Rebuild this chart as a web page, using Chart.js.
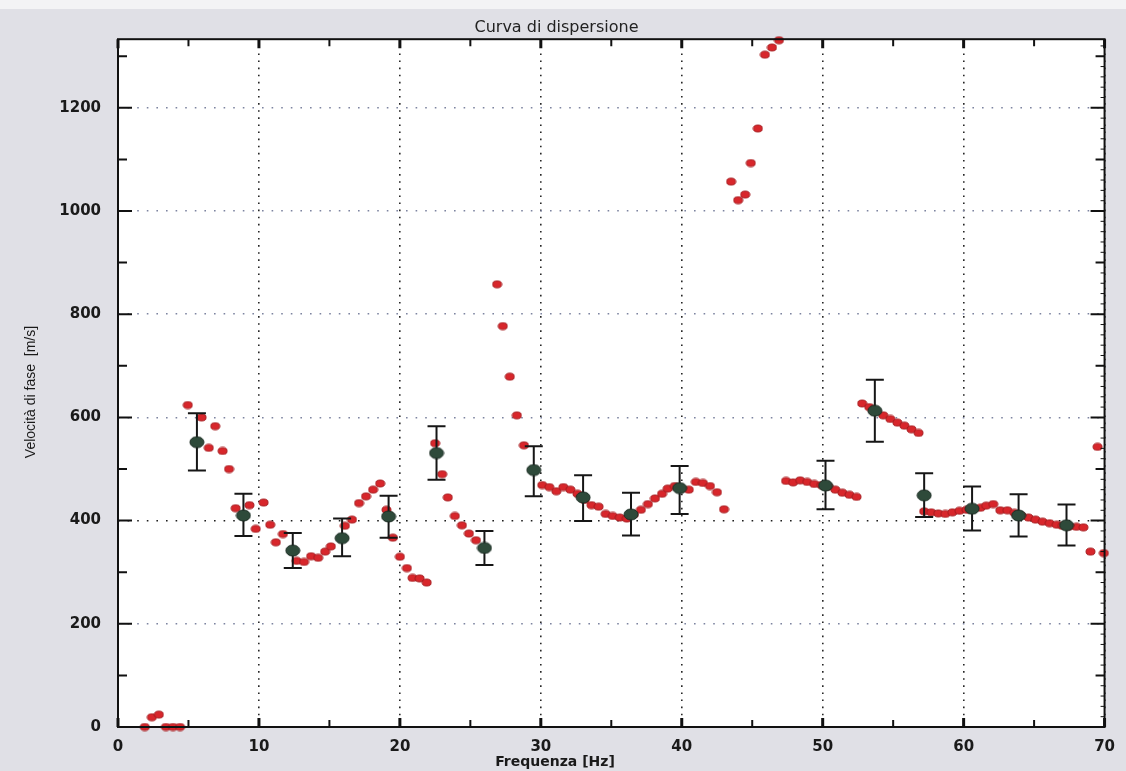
<!DOCTYPE html>
<html>
<head>
<meta charset="utf-8">
<script src="https://cdn.jsdelivr.net/npm/chart.js@4.4.1/dist/chart.umd.min.js"></script>
<style>
  html, body { margin: 0; padding: 0; background: #e0e0e6; }
</style>
</head>
<body>
<canvas id="curva" width="1126" height="771"></canvas>
<script>
// punti della curva di dispersione (frequenza in Hz, velocità in m/s)
const freqPunti = [
  1.9, 2.4, 2.9, 3.4, 3.9, 4.4,
  4.95, 5.93, 6.44, 6.9, 7.42, 7.88, 8.35, 9.33, 9.77, 10.33, 10.8, 11.2, 11.7,
  12.67, 13.2, 13.7, 14.2, 14.7, 15.1, 16.1, 16.6, 17.1, 17.6, 18.1, 18.6, 19.05, 19.5,
  20.0, 20.5, 20.9, 21.4, 21.9,
  22.5, 23.0, 23.4, 23.9, 24.4, 24.9, 25.4,
  26.9, 27.3, 27.8, 28.3, 28.8,
  30.1, 30.6, 31.1, 31.6, 32.1, 32.6, 33.1, 33.6, 34.1, 34.6, 35.1, 35.6, 36.1, 36.6,
  37.1, 37.6, 38.1, 38.6, 39.0, 39.5, 40.0, 40.5, 41.0, 41.5, 42.0, 42.5, 43.0,
  43.5, 44.0, 44.5, 44.9, 45.4, 45.9, 46.4, 46.9,
  47.4, 47.9, 48.4, 48.9, 49.4, 49.9, 50.4, 50.9, 51.4, 51.9, 52.4,
  52.8, 53.3, 53.8, 54.3, 54.8, 55.3, 55.8, 56.3, 56.8,
  57.2, 57.7, 58.2, 58.7, 59.2, 59.7, 60.2, 60.7, 61.2, 61.6, 62.1, 62.6, 63.1, 63.6,
  64.1, 64.6, 65.1, 65.6, 66.1, 66.6, 67.0, 67.5, 68.0, 68.5,
  69.0, 69.5, 69.95
];
const velPunti = [
  0, 19, 24, 0, 0, 0,
  624, 600, 541, 583, 535, 500, 424, 430, 384, 435, 392, 358, 374,
  322, 320, 331, 328, 340, 350, 390, 402, 434, 447, 460, 472, 421, 367,
  330, 308, 289, 288, 280,
  550, 490, 445, 409, 391, 375, 362,
  858, 777, 679, 604, 546,
  469, 465, 457, 465, 460, 452, 440, 430, 427, 413, 409, 406, 404, 412,
  421, 432, 443, 452, 462, 467, 462, 460, 475, 473, 467, 455, 422,
  1057, 1021, 1032, 1093, 1160, 1303, 1317, 1331,
  477, 474, 478, 475, 471, 469, 466, 460, 454, 450, 446,
  627, 620, 612, 604, 597, 590, 584, 577, 570,
  418, 416, 414, 413, 416, 419, 421, 423, 425, 429, 432, 420, 420, 415,
  410, 406, 402, 398, 395, 392, 390, 389, 388, 387,
  340, 543, 337
];

// valori medi con barre d'errore
const freqMedia = [5.6, 8.9, 12.4, 15.9, 19.2, 22.6, 26.0, 29.5, 33.0, 36.4, 39.85, 50.2, 53.7, 57.2, 60.6, 63.9, 67.3];
const velMedia  = [552, 410, 342, 366, 408, 531, 347, 498, 445, 412, 463, 468, 613, 449, 423, 410, 391];
const velMin    = [497, 370, 308, 331, 367, 479, 314, 447, 399, 371, 413, 422, 553, 407, 381, 369, 352];
const velMax    = [608, 452, 376, 404, 448, 583, 380, 544, 488, 454, 506, 516, 673, 492, 466, 451, 431];

const xTicks = [0, 10, 20, 30, 40, 50, 60, 70];
const yTicks = [0, 200, 400, 600, 800, 1000, 1200];

const fontTick = { family: 'DejaVu Sans', size: 15, weight: 'bold' };

// marcatore ellittico (la scansione schiaccia un po' i punti)
function ellisse(w, h, fill, stroke) {
  const c = document.createElement('canvas');
  c.width = w + 2;
  c.height = h + 2;
  const g = c.getContext('2d');
  g.beginPath();
  g.ellipse(c.width / 2, c.height / 2, w / 2, h / 2, 0, 0, Math.PI * 2);
  g.fillStyle = fill;
  g.fill();
  g.lineWidth = 1;
  g.strokeStyle = stroke;
  g.stroke();
  return c;
}
const puntoRosso = ellisse(9, 7, '#d8262b', '#a41b1f');
const puntoVerde = ellisse(14, 11, '#2e4a3a', '#1b2b22');

const cornice = {
  id: 'cornice',
  beforeDraw(chart) {
    const { ctx, chartArea: a, width, height } = chart;
    ctx.save();
    ctx.fillStyle = '#e0e0e6';
    ctx.fillRect(0, 0, width, height);
    ctx.fillStyle = '#f3f3f5';
    ctx.fillRect(0, 0, width, 9);
    ctx.fillStyle = '#ffffff';
    ctx.fillRect(a.left, a.top, a.right - a.left, a.bottom - a.top);
    ctx.restore();
  },
  beforeDatasetDraw(chart, args) {
    if (args.index !== 0) return;
    const { ctx } = chart;
    const sx = chart.scales.x, sy = chart.scales.y;
    ctx.save();
    ctx.strokeStyle = '#161616';
    ctx.lineWidth = 2;
    freqMedia.forEach((f, i) => {
      const px = sx.getPixelForValue(f);
      const y1 = sy.getPixelForValue(velMin[i]);
      const y2 = sy.getPixelForValue(velMax[i]);
      ctx.beginPath();
      ctx.moveTo(px, y1); ctx.lineTo(px, y2);
      ctx.moveTo(px - 9, y1); ctx.lineTo(px + 9, y1);
      ctx.moveTo(px - 9, y2); ctx.lineTo(px + 9, y2);
      ctx.stroke();
    });
    ctx.restore();
  },
  afterDraw(chart) {
    const { ctx, chartArea: a } = chart;
    const sx = chart.scales.x, sy = chart.scales.y;
    ctx.save();
    // riquadro
    ctx.strokeStyle = '#111';
    ctx.lineWidth = 2;
    ctx.strokeRect(a.left, a.top, a.right - a.left, a.bottom - a.top);

    // tacche asse x (sotto e sopra)
    for (let v = 0; v <= 70; v += 5) {
      const px = sx.getPixelForValue(v);
      const major = v % 10 === 0;
      const len = major ? 9 : 7;
      ctx.lineWidth = major ? 3 : 2;
      ctx.beginPath();
      ctx.moveTo(px, a.bottom); ctx.lineTo(px, a.bottom - len);
      ctx.moveTo(px, a.top); ctx.lineTo(px, a.top + len);
      ctx.stroke();
    }
    // tacche asse y (sinistra e destra)
    for (let v = 0; v <= 1300; v += 100) {
      const py = sy.getPixelForValue(v);
      const major = v % 200 === 0;
      const len = major ? 14 : 9;
      ctx.lineWidth = 2;
      ctx.beginPath();
      ctx.moveTo(a.left, py); ctx.lineTo(a.left + len, py);
      ctx.moveTo(a.right, py); ctx.lineTo(a.right - len, py);
      ctx.stroke();
    }
    ctx.lineWidth = 1;
    for (let v = 20; v <= 1320; v += 20) {
      if (v % 100 === 0) continue;
      const py = sy.getPixelForValue(v);
      ctx.beginPath();
      ctx.moveTo(a.right, py); ctx.lineTo(a.right - 4, py);
      ctx.stroke();
    }

    // titoli degli assi
    ctx.fillStyle = '#1a1a1a';
    ctx.textAlign = 'center';
    ctx.textBaseline = 'middle';
    ctx.font = 'bold 14px "DejaVu Sans"';
    ctx.fillText('Frequenza [Hz]', 555, 762);
    ctx.translate(31, 392);
    ctx.rotate(-Math.PI / 2);
    ctx.font = '14px "Liberation Sans"';
    ctx.fillText('Velocità di fase  [m/s]', 0, 0);
    ctx.restore();
  }
};

new Chart(document.getElementById('curva').getContext('2d'), {
  type: 'scatter',
  data: {
    datasets: [
      {
        label: 'Media',
        data: freqMedia.map((f, i) => ({ x: f, y: velMedia[i] })),
        pointStyle: puntoVerde,
        order: 1,
        clip: false
      },
      {
        label: 'Dispersione',
        data: freqPunti.map((f, i) => ({ x: f, y: velPunti[i] })),
        pointStyle: puntoRosso,
        order: 2,
        clip: false
      }
    ]
  },
  options: {
    responsive: false,
    animation: false,
    layout: { padding: { left: 0, right: 13, top: 0, bottom: 0 } },
    plugins: {
      legend: { display: false },
      tooltip: { enabled: false },
      title: {
        display: true,
        text: 'Curva di dispersione',
        color: '#222',
        font: { family: 'DejaVu Sans', size: 16, weight: 'normal' },
        padding: { top: 18, bottom: 2 }
      }
    },
    scales: {
      x: {
        type: 'linear',
        min: 0,
        max: 70,
        afterBuildTicks: s => { s.ticks = xTicks.map(v => ({ value: v })); },
        afterFit: s => { s.height = 44; },
        grid: { color: 'rgba(0,0,0,0.85)', lineWidth: 1.6, drawTicks: false },
        border: { display: false, dash: [1.6, 5.5] },
        ticks: { padding: 11, color: '#1a1a1a', font: fontTick, maxRotation: 0, autoSkip: false, callback: v => String(v) }
      },
      y: {
        min: 0,
        max: 1333,
        afterBuildTicks: s => { s.ticks = yTicks.map(v => ({ value: v })); },
        afterFit: s => { s.width = 118; },
        grid: {
          color: c => (c.tick && c.tick.value === 400) ? '#1e1e1e' : '#7d84a0',
          lineWidth: 1.6,
          drawTicks: false
        },
        border: { display: false, dash: [1.6, 8] },
        ticks: { padding: 17, color: '#1a1a1a', font: fontTick, autoSkip: false, callback: v => String(v) }
      }
    }
  },
  plugins: [cornice]
});
</script>
</body>
</html>
